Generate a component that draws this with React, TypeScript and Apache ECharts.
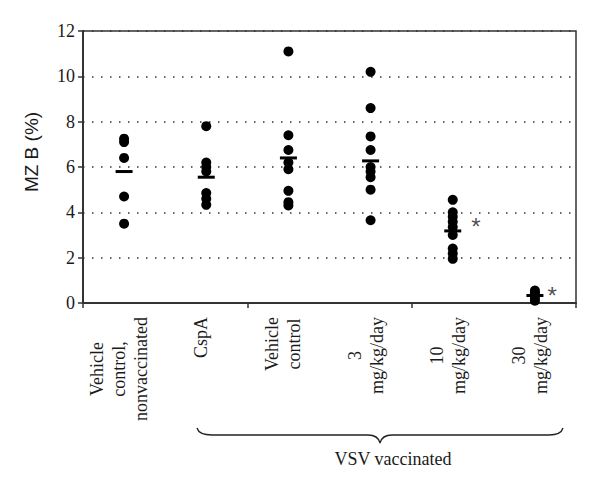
import React, { useEffect, useRef } from "react";
import * as echarts from "echarts";

const categories = [
  "Vehicle\ncontrol,\nnonvaccinated",
  "CspA",
  "Vehicle\ncontrol",
  "3\nmg/kg/day",
  "10\nmg/kg/day",
  "30\nmg/kg/day",
];

const vehicleNonvacc = [7.25, 7.1, 6.4, 4.7, 3.5];
const cspA = [7.8, 6.2, 6.0, 5.8, 4.85, 4.6, 4.33];
const vehicleControl = [11.1, 7.4, 6.75, 6.2, 5.9, 4.95, 4.45, 4.3];
const dose3 = [10.2, 8.6, 7.35, 6.75, 6.0, 5.8, 5.55, 5.0, 3.65];
const dose10 = [4.55, 4.0, 3.8, 3.58, 3.35, 3.0, 2.4, 2.18, 1.95];
const dose30 = [0.55, 0.45, 0.35, 0.22, 0.1];

const groupValues = [vehicleNonvacc, cspA, vehicleControl, dose3, dose10, dose30];
const groupMeans = [5.8, 5.55, 6.4, 6.27, 3.18, 0.33];

const asteriskGroups = [4, 5];
const asteriskY = [3.5, 0.45];
const asteriskOffsetX = [18, 12];

const yTicks = { min: 0, max: 12, interval: 2 };
const yAxisTitle = "MZ B (%)";
const braceLabel = "VSV vaccinated";

const SERIF = "'Liberation Serif', 'DejaVu Serif', serif";
const SANS = "'Liberation Sans', Arial, sans-serif";
const LABEL_FONT = `18px ${SERIF}`;

echarts.graphic.registerShape(
  "brace",
  echarts.graphic.extendPath(
    "M197,428 Q199,435 212,435 L368,435 Q378,435 380,443 Q382,435 392,435 L549,435 Q561,435 563,428",
    {}
  )
);

function measure(text: string, font: string): number {
  const c = document.createElement("canvas");
  const ctx = c.getContext("2d");
  if (!ctx) return text.length * 8;
  ctx.font = font;
  return ctx.measureText(text).width;
}

export default function App() {
  const ref = useRef<HTMLDivElement>(null);

  useEffect(() => {
    if (!ref.current) return;
    const chart = echarts.init(ref.current, undefined, { renderer: "svg" });

    const dots: number[][] = [];
    groupValues.forEach((vals, i) => vals.forEach((v) => dots.push([i, v])));
    const means = groupMeans.map((m, i) => [i, m]);
    const stars = asteriskGroups.map((g, i) => ({
      value: [g, asteriskY[i]],
      label: { offset: [asteriskOffsetX[i], 3] },
    }));

    const baseGraphics: any[] = [
      {
        type: "text",
        x: 31,
        y: 152,
        rotation: Math.PI / 2,
        style: {
          text: yAxisTitle,
          fill: "#1a1a1a",
          font: `19px ${SANS}`,
          textAlign: "center",
          textVerticalAlign: "middle",
        },
      },
      {
        type: "brace",
        x: 0,
        y: 0,
        style: { stroke: "#222", fill: "none", lineWidth: 1.3 },
      },
      {
        type: "text",
        x: 393,
        y: 459,
        style: {
          text: braceLabel,
          fill: "#1a1a1a",
          font: `18px ${SERIF}`,
          textAlign: "center",
          textVerticalAlign: "middle",
        },
      },
    ];

    chart.setOption({
      animation: false,
      backgroundColor: "#ffffff",
      grid: {
        left: 83,
        top: 31,
        right: 24,
        bottom: 187,
        show: true,
        borderColor: "#333",
        borderWidth: 1.5,
        backgroundColor: "transparent",
      },
      xAxis: {
        type: "category",
        data: categories,
        boundaryGap: true,
        axisLine: { lineStyle: { color: "#333", width: 2 } },
        axisTick: { show: true, alignWithLabel: false, length: 5, inside: false, lineStyle: { color: "#333", width: 1.5 } },
        splitLine: { show: false },
        axisLabel: { show: false },
      },
      yAxis: {
        type: "value",
        min: yTicks.min,
        max: yTicks.max,
        interval: yTicks.interval,
        axisLine: { show: true, lineStyle: { color: "#333", width: 2 } },
        axisTick: { show: true, length: 5, lineStyle: { color: "#333", width: 1.5 } },
        axisLabel: {
          margin: 8,
          color: "#1a1a1a",
          fontFamily: SERIF,
          fontSize: 18,
        },
        splitLine: {
          show: true,
          lineStyle: { color: "#333", width: 1.5, type: [1.5, 7.5] },
        },
      },
      series: [
        {
          type: "scatter",
          data: dots,
          symbol: "circle",
          symbolSize: 10,
          itemStyle: { color: "#000", opacity: 1 },
          z: 2,
        },
        {
          type: "scatter",
          data: means,
          symbol: "rect",
          symbolSize: [17, 3],
          itemStyle: { color: "#000", opacity: 1 },
          z: 3,
        },
        {
          type: "scatter",
          data: stars,
          symbolSize: 1,
          itemStyle: { color: "rgba(0,0,0,0)" },
          label: {
            show: true,
            formatter: "*",
            position: "right",
            distance: 0,
            color: "#222",
            fontFamily: SANS,
            fontSize: 24,
          },
          z: 4,
        },
      ],
      graphic: baseGraphics,
    });

    const axisY = chart.convertToPixel({ yAxisIndex: 0 }, 0) as number;
    const lineH = 22;
    const top = axisY + 14;
    const labelGraphics: any[] = [];
    categories.forEach((cat, i) => {
      const cx = (chart.convertToPixel({ xAxisIndex: 0 }, i) as number) - 5;
      const lines = cat.split("\n");
      const maxW = Math.max(...lines.map((l) => measure(l, LABEL_FONT)));
      const cy = top + maxW / 2;
      lines.forEach((l, j) => {
        labelGraphics.push({
          type: "text",
          x: cx + (j - (lines.length - 1) / 2) * lineH,
          y: cy,
          rotation: Math.PI / 2,
          style: {
            text: l,
            fill: "#1a1a1a",
            font: LABEL_FONT,
            textAlign: "center",
            textVerticalAlign: "middle",
          },
        });
      });
    });
    chart.setOption({ graphic: [...baseGraphics, ...labelGraphics] }, { replaceMerge: ["graphic"] });

    return () => chart.dispose();
  }, []);

  return (
    <div
      ref={ref}
      style={{ position: "absolute", left: 0, top: 0, width: 600, height: 490 }}
    />
  );
}
